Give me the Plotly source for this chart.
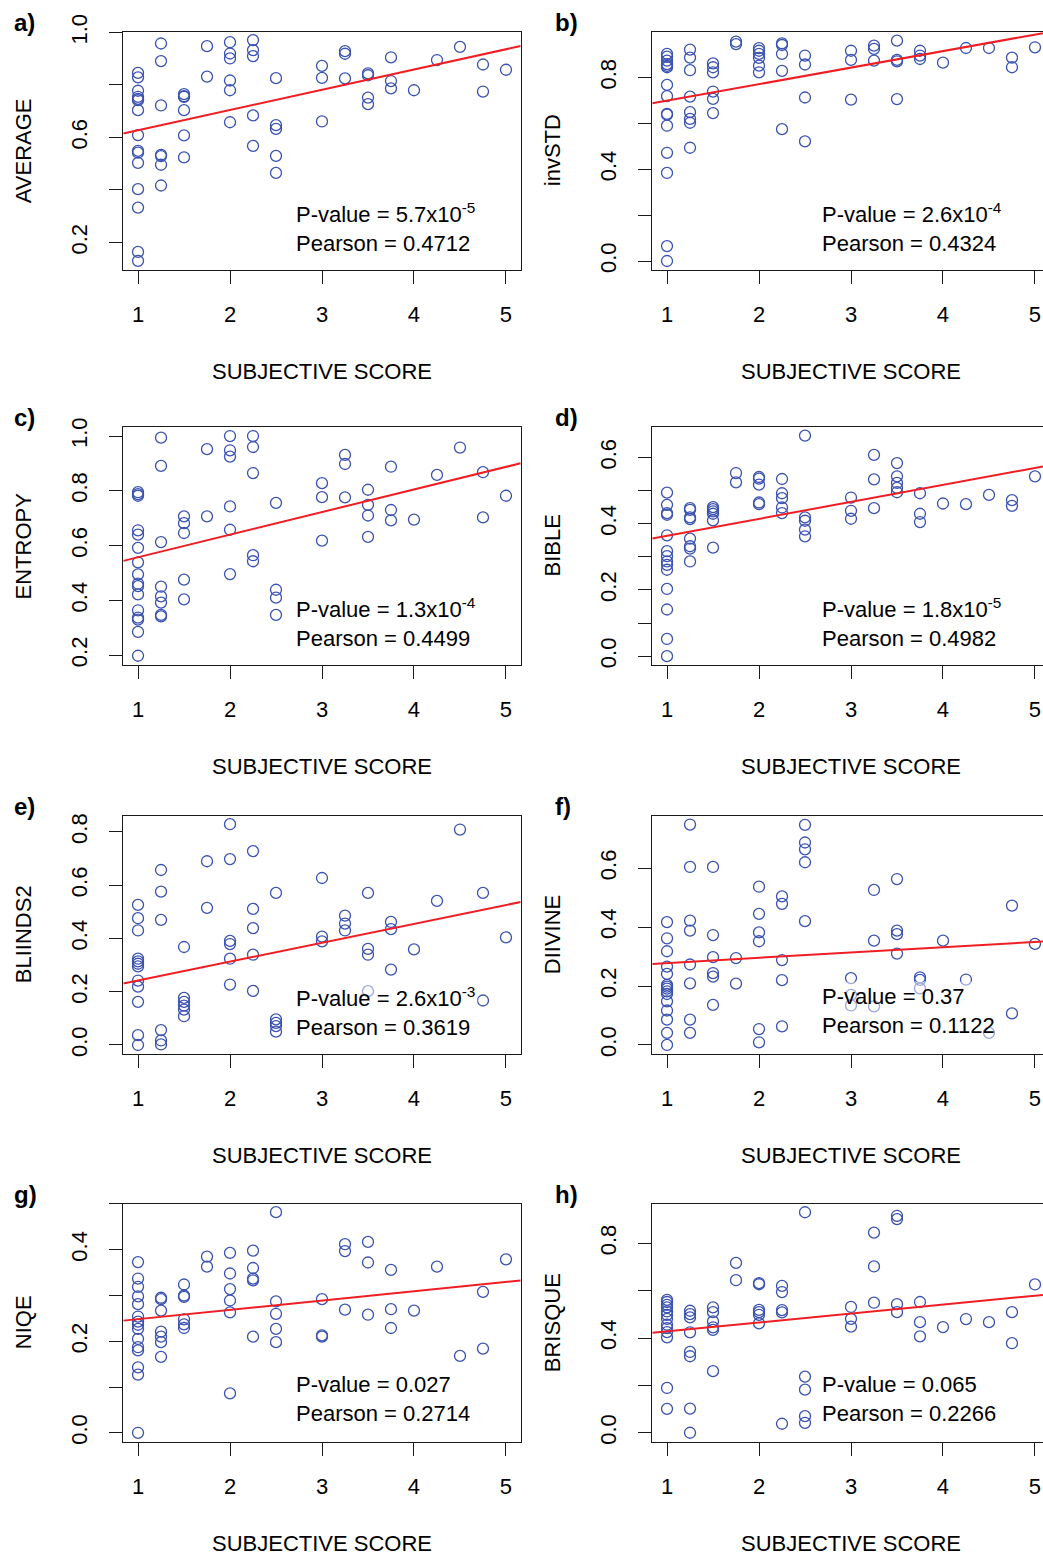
import plotly.graph_objects as go

FONT = "Liberation Sans"
BLUE = "rgb(58,82,176)"
RED = "rgb(238,30,36)"
BOX = "#1a1a1a"

SCORE_TICKS = [1, 2, 3, 4, 5]
X_TITLE = "SUBJECTIVE SCORE"

# ---- data: (subjective score, [metric values]) ----
average_pts = [
    (1.00, [0.846, 0.829, 0.778, 0.755, 0.747, 0.742, 0.704, 0.609, 0.549, 0.542, 0.503, 0.403, 0.333, 0.164, 0.130]),
    (1.25, [0.958, 0.891, 0.722, 0.534, 0.529, 0.496, 0.417]),
    (1.50, [0.765, 0.757, 0.755, 0.704, 0.608, 0.524]),
    (1.75, [0.948, 0.832]),
    (2.00, [0.963, 0.920, 0.901, 0.817, 0.780, 0.658]),
    (2.25, [0.971, 0.933, 0.910, 0.684, 0.568]),
    (2.50, [0.826, 0.647, 0.633, 0.530, 0.465]),
    (3.00, [0.873, 0.827, 0.661]),
    (3.25, [0.929, 0.919, 0.825]),
    (3.50, [0.844, 0.837, 0.752, 0.727]),
    (3.75, [0.905, 0.815, 0.787]),
    (4.00, [0.780]),
    (4.25, [0.895]),
    (4.50, [0.945]),
    (4.75, [0.878, 0.775]),
    (5.00, [0.858]),
]

invstd_pts = [
    (1.00, [0.903, 0.891, 0.874, 0.859, 0.851, 0.845, 0.768, 0.719, 0.642, 0.638, 0.590, 0.472, 0.384, 0.065, 0.0]),
    (1.25, [0.922, 0.887, 0.832, 0.717, 0.649, 0.620, 0.603, 0.494]),
    (1.50, [0.862, 0.845, 0.823, 0.739, 0.707, 0.645]),
    (1.75, [0.957, 0.946]),
    (2.00, [0.928, 0.917, 0.903, 0.886, 0.852, 0.823]),
    (2.25, [0.949, 0.942, 0.903, 0.829, 0.575]),
    (2.50, [0.896, 0.857, 0.713, 0.522]),
    (3.00, [0.917, 0.877, 0.704]),
    (3.25, [0.939, 0.925, 0.874]),
    (3.50, [0.961, 0.877, 0.871, 0.706]),
    (3.75, [0.917, 0.896, 0.881]),
    (4.00, [0.865]),
    (4.25, [0.929]),
    (4.50, [0.929]),
    (4.75, [0.887, 0.845]),
    (5.00, [0.932]),
]

entropy_pts = [
    (1.00, [0.795, 0.788, 0.782, 0.656, 0.640, 0.592, 0.539, 0.495, 0.461, 0.452, 0.422, 0.364, 0.337, 0.330, 0.285, 0.198]),
    (1.25, [0.994, 0.891, 0.613, 0.450, 0.415, 0.392, 0.347, 0.342]),
    (1.50, [0.707, 0.682, 0.646, 0.476, 0.404]),
    (1.75, [0.952, 0.707]),
    (2.00, [1.000, 0.948, 0.925, 0.743, 0.658, 0.496]),
    (2.25, [1.000, 0.960, 0.865, 0.565, 0.543]),
    (2.50, [0.756, 0.439, 0.410, 0.347]),
    (3.00, [0.828, 0.777, 0.618]),
    (3.25, [0.931, 0.898, 0.776]),
    (3.50, [0.804, 0.749, 0.710, 0.632]),
    (3.75, [0.888, 0.730, 0.692]),
    (4.00, [0.695]),
    (4.25, [0.858]),
    (4.50, [0.958]),
    (4.75, [0.868, 0.703]),
    (5.00, [0.782]),
]

bible_pts = [
    (1.00, [0.494, 0.457, 0.432, 0.427, 0.365, 0.317, 0.302, 0.286, 0.276, 0.261, 0.203, 0.141, 0.052, 0.0]),
    (1.25, [0.447, 0.442, 0.419, 0.414, 0.355, 0.332, 0.325, 0.286]),
    (1.50, [0.450, 0.444, 0.437, 0.430, 0.410, 0.328]),
    (1.75, [0.553, 0.525]),
    (2.00, [0.541, 0.536, 0.518, 0.464, 0.459]),
    (2.25, [0.535, 0.492, 0.477, 0.449, 0.432]),
    (2.50, [0.666, 0.419, 0.409, 0.382, 0.362]),
    (3.00, [0.479, 0.439, 0.415]),
    (3.25, [0.608, 0.534, 0.447]),
    (3.50, [0.583, 0.543, 0.523, 0.508, 0.495]),
    (3.75, [0.492, 0.430, 0.405]),
    (4.00, [0.461]),
    (4.25, [0.459]),
    (4.50, [0.487]),
    (4.75, [0.471, 0.454]),
    (5.00, [0.543]),
]

bliinds2_pts = [
    (1.00, [0.526, 0.476, 0.430, 0.324, 0.314, 0.305, 0.295, 0.242, 0.219, 0.162, 0.037, 0.0]),
    (1.25, [0.657, 0.576, 0.470, 0.056, 0.017, 0.002]),
    (1.50, [0.368, 0.177, 0.162, 0.148, 0.133, 0.108]),
    (1.75, [0.690, 0.515]),
    (2.00, [0.829, 0.698, 0.391, 0.379, 0.324, 0.227]),
    (2.25, [0.728, 0.511, 0.439, 0.339, 0.203]),
    (2.50, [0.571, 0.096, 0.083, 0.071, 0.050]),
    (3.00, [0.627, 0.407, 0.389]),
    (3.25, [0.486, 0.456, 0.430]),
    (3.50, [0.571, 0.361, 0.339, 0.202]),
    (3.75, [0.462, 0.435, 0.283]),
    (4.00, [0.359]),
    (4.25, [0.541]),
    (4.50, [0.809]),
    (4.75, [0.571, 0.167]),
    (5.00, [0.404]),
]

diivine_pts = [
    (1.00, [0.417, 0.362, 0.318, 0.266, 0.241, 0.204, 0.198, 0.191, 0.182, 0.173, 0.148, 0.117, 0.086, 0.041, 0.0]),
    (1.25, [0.748, 0.604, 0.422, 0.388, 0.273, 0.209, 0.086, 0.041]),
    (1.50, [0.604, 0.373, 0.298, 0.244, 0.232, 0.136]),
    (1.75, [0.295, 0.208]),
    (2.00, [0.537, 0.445, 0.382, 0.352, 0.054, 0.009]),
    (2.25, [0.504, 0.479, 0.288, 0.220, 0.063]),
    (2.50, [0.747, 0.687, 0.664, 0.620, 0.420]),
    (3.00, [0.227, 0.170, 0.134]),
    (3.25, [0.526, 0.354, 0.131]),
    (3.50, [0.563, 0.388, 0.376, 0.310]),
    (3.75, [0.229, 0.221, 0.192]),
    (4.00, [0.354]),
    (4.25, [0.222]),
    (4.50, [0.041]),
    (4.75, [0.473, 0.107]),
    (5.00, [0.343]),
]

niqe_pts = [
    (1.00, [0.373, 0.337, 0.319, 0.298, 0.281, 0.254, 0.243, 0.236, 0.227, 0.205, 0.187, 0.180, 0.143, 0.127, 0.0]),
    (1.25, [0.295, 0.292, 0.267, 0.221, 0.210, 0.198, 0.166]),
    (1.50, [0.324, 0.300, 0.297, 0.248, 0.237, 0.229]),
    (1.75, [0.385, 0.363]),
    (2.00, [0.393, 0.348, 0.314, 0.289, 0.263, 0.086]),
    (2.25, [0.398, 0.360, 0.337, 0.333, 0.210]),
    (2.50, [0.482, 0.287, 0.260, 0.227, 0.198]),
    (3.00, [0.292, 0.213, 0.210]),
    (3.25, [0.412, 0.397, 0.269]),
    (3.50, [0.417, 0.372, 0.258]),
    (3.75, [0.356, 0.270, 0.229]),
    (4.00, [0.267]),
    (4.25, [0.363]),
    (4.50, [0.168]),
    (4.75, [0.308, 0.184]),
    (5.00, [0.379]),
]

brisque_pts = [
    (1.00, [0.561, 0.552, 0.540, 0.529, 0.512, 0.498, 0.481, 0.456, 0.442, 0.425, 0.403, 0.189, 0.101]),
    (1.25, [0.515, 0.501, 0.487, 0.424, 0.341, 0.323, 0.102, 0.0]),
    (1.50, [0.529, 0.509, 0.470, 0.445, 0.434, 0.260]),
    (1.75, [0.717, 0.644]),
    (2.00, [0.632, 0.627, 0.519, 0.509, 0.498, 0.462]),
    (2.25, [0.620, 0.594, 0.518, 0.508, 0.038]),
    (2.50, [0.931, 0.237, 0.182, 0.070, 0.042]),
    (3.00, [0.531, 0.481, 0.448]),
    (3.25, [0.845, 0.702, 0.549]),
    (3.50, [0.916, 0.902, 0.543, 0.509]),
    (3.75, [0.552, 0.467, 0.407]),
    (4.00, [0.446]),
    (4.25, [0.480]),
    (4.50, [0.467]),
    (4.75, [0.509, 0.378]),
    (5.00, [0.626]),
]

# regression lines (intercept, slope)
fit_intercepts = [0.550, 0.627, 0.475, 0.312, 0.171, 0.260, 0.228, 0.390]
fit_slopes = [0.0772, 0.0721, 0.0825, 0.0513, 0.0709, 0.0179, 0.0203, 0.0377]

panel_labels = ["a)", "b)", "c)", "d)", "e)", "f)", "g)", "h)"]
metric_names = ["AVERAGE", "invSTD", "ENTROPY", "BIBLE", "BLIINDS2", "DIIVINE", "NIQE", "BRISQUE"]
pvalues = ["5.7x10<sup>-5</sup>", "2.6x10<sup>-4</sup>", "1.3x10<sup>-4</sup>", "1.8x10<sup>-5</sup>",
           "2.6x10<sup>-3</sup>", "0.37", "0.027", "0.065"]
pearsons = ["0.4712", "0.4324", "0.4499", "0.4982", "0.3619", "0.1122", "0.2714", "0.2266"]

# labelled y ticks and unlabelled (minor) y ticks
ytick_major = [
    [0.2, 0.6, 1.0],
    [0.0, 0.4, 0.8],
    [0.2, 0.4, 0.6, 0.8, 1.0],
    [0.0, 0.2, 0.4, 0.6],
    [0.0, 0.2, 0.4, 0.6, 0.8],
    [0.0, 0.2, 0.4, 0.6],
    [0.0, 0.2, 0.4],
    [0.0, 0.4, 0.8],
]
ytick_minor = [
    [0.4, 0.8],
    [0.2, 0.6],
    [],
    [0.1, 0.3, 0.5],
    [],
    [],
    [0.1, 0.3, 0.5],
    [0.2, 0.6],
]
y_ranges = [
    [0.097, 1.003], [-0.037, 1.0], [0.165, 1.033], [-0.026, 0.692],
    [-0.032, 0.861], [-0.029, 0.778], [-0.019, 0.5005], [-0.037, 0.967],
]
all_pts = [average_pts, invstd_pts, entropy_pts, bible_pts,
           bliinds2_pts, diivine_pts, niqe_pts, brisque_pts]

# ---- layout geometry (screen pixels; body margin removed by post_script) ----
W, H = 1043, 1556
col_left = [123.3, 652.3]
box_w = 397.4
row_top = [31.7, 427.0, 815.7, 1203.7]
box_h = 237.8
x_left_range = [0.84, 5.16]
px_per_unit = box_w / (x_left_range[1] - x_left_range[0])
stat_x = [2.69, 2.65]


def px(x):
    return x / W


def py(y):
    return 1 - y / H


fig = go.Figure()
annotations = []
layout = dict(
    width=W, height=H, autosize=False, margin=dict(l=0, r=0, t=0, b=0, autoexpand=False),
    paper_bgcolor="white", plot_bgcolor="white",
    showlegend=False, font=dict(family=FONT, size=22, color="black"),
)
tfont = dict(family=FONT, size=22, color="black")

for i in range(8):
    n = i + 1
    row, col = divmod(i, 2)
    x0 = col_left[col]
    x1 = min(x0 + box_w, W)
    xr = [x_left_range[0], x_left_range[0] + (x1 - x0) / px_per_unit]
    yt = row_top[row]
    yb = yt + box_h
    dom_x = [px(x0), min(px(x1), 1.0)]
    dom_y = [py(yb), py(yt)]
    xa = f"x{n}" if n > 1 else "x"
    ya = f"y{n}" if n > 1 else "y"
    xkey = f"xaxis{n}" if n > 1 else "xaxis"
    ykey = f"yaxis{n}" if n > 1 else "yaxis"

    xs, ys = [], []
    for score, vals in all_pts[i]:
        for v in vals:
            xs.append(score)
            ys.append(v)
    fig.add_trace(go.Scatter(
        x=xs, y=ys, mode="markers", xaxis=xa, yaxis=ya, cliponaxis=False,
        marker=dict(symbol="circle-open", size=11, color=BLUE, line=dict(width=1.3, color=BLUE)),
    ))
    b0, b1 = fit_intercepts[i], fit_slopes[i]
    fig.add_trace(go.Scatter(
        x=xr, y=[b0 + b1 * xr[0], b0 + b1 * xr[1]], mode="lines", xaxis=xa, yaxis=ya,
        line=dict(color=RED, width=2),
    ))

    layout[xkey] = dict(
        domain=dom_x, anchor=ya, range=xr, tickmode="array", tickvals=SCORE_TICKS,
        ticktext=[str(t) for t in SCORE_TICKS], automargin=False,
        showline=True, linecolor=BOX, linewidth=1.3, mirror=True,
        ticks="outside", ticklen=13, tickwidth=1.3, tickcolor=BOX,
        showgrid=False, zeroline=False, ticklabelstandoff=12,
        ticklabeloverflow="allow", tickfont=tfont,
    )
    ydict = dict(
        domain=dom_y, anchor=xa, range=y_ranges[i], tickmode="array",
        tickvals=ytick_major[i], ticktext=[f"{v:.1f}" for v in ytick_major[i]],
        tickangle=-90, automargin=False,
        showline=True, linecolor=BOX, linewidth=1.3, mirror=(col == 0),
        ticks="outside", ticklen=13, tickwidth=1.3, tickcolor=BOX,
        showgrid=False, zeroline=False, ticklabelstandoff=13,
        tickfont=tfont,
    )
    if ytick_minor[i]:
        ydict["minor"] = dict(tickmode="array", tickvals=ytick_minor[i], ticks="outside",
                              ticklen=13, tickwidth=1.3, tickcolor=BOX, showgrid=False)
    layout[ykey] = ydict

    # axis titles
    annotations.append(dict(
        text=X_TITLE, xref="paper", yref="paper",
        x=px(x0 + box_w / 2), y=py(yb + 101.7),
        xanchor="center", yanchor="middle", showarrow=False, font=tfont,
    ))
    annotations.append(dict(
        text=metric_names[i], xref="paper", yref="paper", textangle=-90,
        x=px(x0 - 99.7), y=py(yt + box_h / 2),
        xanchor="center", yanchor="middle", showarrow=False, font=tfont,
    ))
    # statistics
    annotations.append(dict(
        text=f"P-value = {pvalues[i]}<br>Pearson = {pearsons[i]}",
        xref=xa, x=stat_x[col], yref=f"{ya} domain", y=0.177,
        xanchor="left", yanchor="middle", align="left", showarrow=False,
        font=tfont, bgcolor="rgba(255,255,255,0.5)", borderpad=2,
    ))
    # panel letter
    annotations.append(dict(
        text=f"<b>{panel_labels[i]}</b>", xref="paper", yref="paper",
        x=px(12 if col == 0 else 553), y=py(yt - 9.5),
        xanchor="left", yanchor="middle", showarrow=False,
        font=dict(family=FONT, size=24, color="black"),
    ))

layout["annotations"] = annotations
fig.update_layout(**layout)
fig.write_html(
    "out.html",
    config={"displayModeBar": False},
    post_script="document.body.style.margin='0';document.body.style.overflow='hidden';",
)
